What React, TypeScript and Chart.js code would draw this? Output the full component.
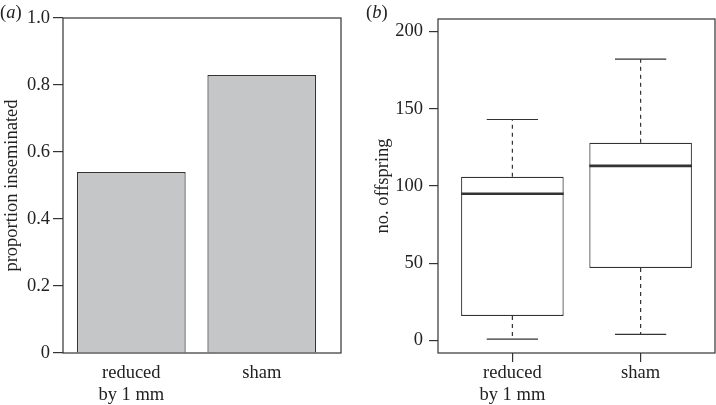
import React, { useEffect, useRef } from "react";
import { Chart, registerables } from "chart.js";

Chart.register(...registerables);

// ---- data ----
const categories: string[][] = [["reduced", "by 1 mm"], ["sham"]];
const barPositions = [0.7, 1.9];
const proportionInseminated = [0.54, 0.83];
const proportionTicks = [0, 0.2, 0.4, 0.6, 0.8, 1.0];
const proportionTickLabels = ["0", "0.2", "0.4", "0.6", "0.8", "1.0"];

const boxPositions = [1, 2];
const offspringMin = [1, 4];
const offspringQ1 = [16, 47];
const offspringMedian = [95, 113];
const offspringQ3 = [106, 128];
const offspringMax = [143, 182];
const offspringTicks = [0, 50, 100, 150, 200];

// ---- styles ----
const FONT = "'Liberation Serif', 'Times New Roman', serif";
const FONT_SIZE = 18.5;
const LINE = "#333333";
const TEXT = "#222222";
const BAR_FILL = "#c5c6c8";

const framePlugin = {
  id: "frame",
  afterDatasetsDraw(chart: any) {
    const { ctx, chartArea } = chart;
    const { left, top, right, bottom } = chartArea;
    ctx.save();
    ctx.strokeStyle = LINE;
    ctx.lineWidth = 1.2;
    ctx.strokeRect(left, top, right - left, bottom - top);
    ctx.restore();
  },
};

const boxPlugin = {
  id: "boxExtras",
  afterDatasetsDraw(chart: any) {
    const { ctx } = chart;
    const xs = chart.scales.x;
    const ys = chart.scales.y;
    const meta = chart.getDatasetMeta(0);
    ctx.save();
    ctx.strokeStyle = LINE;
    boxPositions.forEach((pos, i) => {
      const cx = xs.getPixelForValue(pos);
      const w = meta.data[i].width;
      const yMed = ys.getPixelForValue(offspringMedian[i]);
      const yQ1 = ys.getPixelForValue(offspringQ1[i]);
      const yQ3 = ys.getPixelForValue(offspringQ3[i]);
      const yMin = ys.getPixelForValue(offspringMin[i]);
      const yMax = ys.getPixelForValue(offspringMax[i]);
      // whiskers (dashed)
      ctx.lineWidth = 1.2;
      ctx.setLineDash([4, 4]);
      ctx.beginPath();
      ctx.moveTo(cx, yQ3);
      ctx.lineTo(cx, yMax);
      ctx.moveTo(cx, yQ1);
      ctx.lineTo(cx, yMin);
      ctx.stroke();
      // caps
      ctx.setLineDash([]);
      ctx.beginPath();
      ctx.moveTo(cx - w / 4, yMax);
      ctx.lineTo(cx + w / 4, yMax);
      ctx.moveTo(cx - w / 4, yMin);
      ctx.lineTo(cx + w / 4, yMin);
      ctx.stroke();
      // median
      ctx.lineWidth = 2.6;
      ctx.beginPath();
      ctx.moveTo(cx - w / 2, yMed);
      ctx.lineTo(cx + w / 2, yMed);
      ctx.stroke();
    });
    ctx.restore();
  },
};

const font = { family: FONT, size: FONT_SIZE, lineHeight: 1.2 };

function PanelA() {
  const ref = useRef<HTMLCanvasElement>(null);
  useEffect(() => {
    const chart = new Chart(ref.current!, {
      type: "bar",
      data: {
        datasets: [
          {
            data: barPositions.map((x, i) => ({ x, y: proportionInseminated[i] })),
            backgroundColor: BAR_FILL,
            borderColor: LINE,
            borderWidth: 1.2,
            borderSkipped: "start",
            barPercentage: 1 / 1.2,
            categoryPercentage: 1,
          },
        ],
      },
      options: {
        animation: false,
        responsive: false,
        events: [],
        layout: { padding: { left: 0, top: 18, right: 17, bottom: 0 } },
        plugins: { legend: { display: false }, tooltip: { enabled: false } },
        scales: {
          x: {
            type: "linear",
            min: 0.0716,
            max: 2.629,
            offset: false,
            afterBuildTicks: (s: any) => {
              s.ticks = barPositions.map((v) => ({ value: v }));
            },
            afterFit: (s: any) => {
              s.height = 52;
            },
            grid: {
              offset: false,
              drawOnChartArea: false,
              tickLength: 9,
              color: "transparent",
            },
            border: { display: false },
            ticks: {
              autoSkip: false,
              maxRotation: 0,
              padding: 0,
              color: TEXT,
              font,
              callback: (_v: any, i: number) => categories[i],
            },
          },
          y: {
            min: 0,
            max: 1,
            afterBuildTicks: (s: any) => {
              s.ticks = proportionTicks.map((v) => ({ value: v }));
            },
            afterFit: (s: any) => {
              s.width = 63;
            },
            grid: { drawOnChartArea: false, tickLength: 10, color: LINE, lineWidth: 1.2 },
            border: { display: false },
            ticks: {
              padding: 3,
              color: TEXT,
              font,
              callback: (_v: any, i: number) => proportionTickLabels[i],
            },
            title: {
              display: true,
              text: "proportion inseminated",
              color: TEXT,
              font,
              padding: { top: 1, bottom: 0 },
            },
          },
        },
      },
      plugins: [framePlugin],
    } as any);
    return () => chart.destroy();
  }, []);
  return <canvas ref={ref} width={358} height={405} style={{ position: "absolute", left: 0, top: 0 }} />;
}

function PanelB() {
  const ref = useRef<HTMLCanvasElement>(null);
  useEffect(() => {
    const chart = new Chart(ref.current!, {
      type: "bar",
      data: {
        datasets: [
          {
            data: boxPositions.map((x, i) => ({ x, y: [offspringQ1[i], offspringQ3[i]] })),
            backgroundColor: "#ffffff",
            borderColor: LINE,
            borderWidth: 1.2,
            borderSkipped: false,
            barPercentage: 0.8,
            categoryPercentage: 1,
          },
        ],
      },
      options: {
        animation: false,
        responsive: false,
        events: [],
        layout: { padding: { left: 0, top: 19, right: 1, bottom: 0 } },
        plugins: { legend: { display: false }, tooltip: { enabled: false } },
        scales: {
          x: {
            type: "linear",
            min: 0.42,
            max: 2.58,
            offset: false,
            afterBuildTicks: (s: any) => {
              s.ticks = boxPositions.map((v) => ({ value: v }));
            },
            afterFit: (s: any) => {
              s.height = 52;
            },
            grid: { offset: false, drawOnChartArea: false, tickLength: 9, color: LINE, lineWidth: 1.2 },
            border: { display: false },
            ticks: {
              autoSkip: false,
              maxRotation: 0,
              padding: 0,
              color: TEXT,
              font,
              callback: (_v: any, i: number) => categories[i],
            },
          },
          y: {
            min: -8,
            max: 208,
            afterBuildTicks: (s: any) => {
              s.ticks = offspringTicks.map((v) => ({ value: v }));
            },
            afterFit: (s: any) => {
              s.width = 80;
            },
            grid: { drawOnChartArea: false, tickLength: 9, color: LINE, lineWidth: 1.2 },
            border: { display: false },
            ticks: {
              padding: 6,
              color: TEXT,
              font,
              callback: (v: any) => String(v),
            },
            title: {
              display: true,
              text: "no. offspring",
              color: TEXT,
              font,
              padding: { top: 14, bottom: 0 },
            },
          },
        },
      },
      plugins: [framePlugin, boxPlugin],
    } as any);
    return () => chart.destroy();
  }, []);
  return <canvas ref={ref} width={358} height={405} style={{ position: "absolute", left: 358, top: 0 }} />;
}

const labelStyle: React.CSSProperties = {
  position: "absolute",
  fontFamily: FONT,
  fontSize: FONT_SIZE,
  color: TEXT,
  lineHeight: 1,
  whiteSpace: "nowrap",
};

export default function App() {
  return (
    <div style={{ position: "absolute", left: 0, top: 0, width: 716, height: 405, background: "#fff", overflow: "hidden" }}>
      <PanelA />
      <PanelB />
      <span style={{ ...labelStyle, left: 0, top: 3 }}>
        (<i>a</i>)
      </span>
      <span style={{ ...labelStyle, left: 366, top: 3 }}>
        (<i>b</i>)
      </span>
    </div>
  );
}
